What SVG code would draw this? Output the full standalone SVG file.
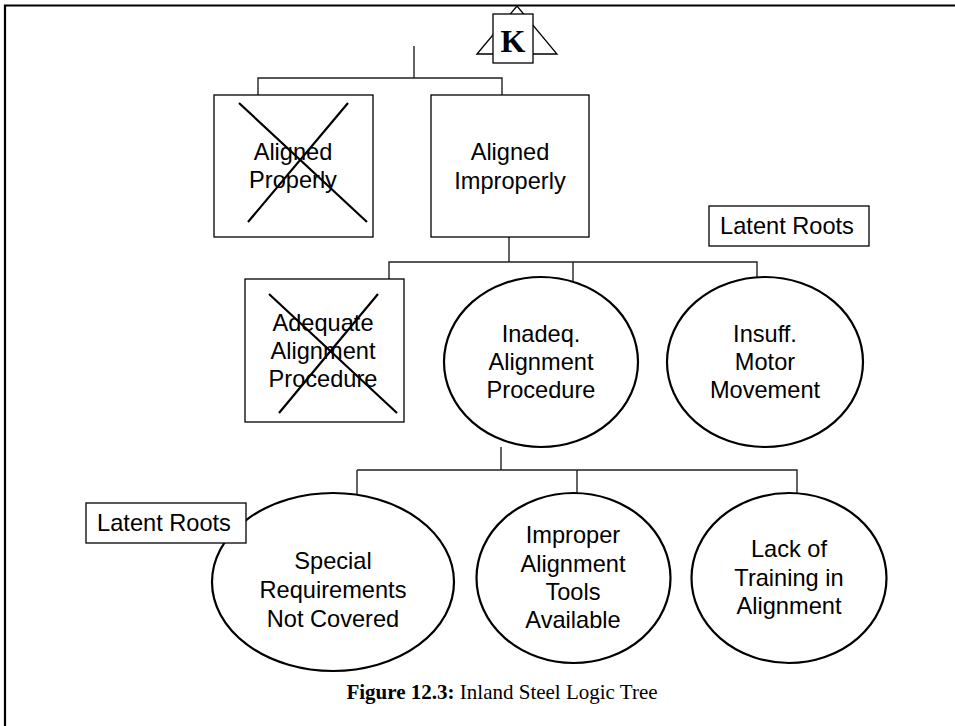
<svg xmlns="http://www.w3.org/2000/svg" width="955" height="726" viewBox="0 0 955 726">
<style>
.lbl{font-family:"Liberation Sans",Arial,sans-serif;font-size:23.6px;fill:#000;text-anchor:middle}
.box{fill:#fff;stroke:#000;stroke-width:1.3}
.ell{fill:#fff;stroke:#000;stroke-width:2.2}
.x{stroke:#000;stroke-width:2.2;fill:none}
.con{stroke:#222;stroke-width:1.4;fill:none}
.cap{font-family:"Liberation Serif","Times New Roman",serif;font-size:21px;fill:#000;text-anchor:middle}
</style>
<rect x="0" y="0" width="955" height="726" fill="#fff"/>
<g id="frame">
<path d="M5,726 V5.5 H955" fill="none" stroke="#000" stroke-width="2.2"/>
</g>
<g id="connectors" class="con">
<path d="M414,46 V78"/>
<path d="M258,95 V78 H502 V95"/>
<path d="M509,237 V262"/>
<path d="M389,279 V262 H757 V279"/>
<path d="M573,262 V282"/>
<path d="M501,447 V470"/>
<path d="M357,470 H797 V494"/>
<path d="M357,470 V494"/>
<path d="M577,470 V493"/>
</g>
<g id="k-transfer">
<polygon points="477,54 517,6 557,54" fill="#fff" stroke="#000" stroke-width="1.3"/>
<rect x="493" y="14" width="40" height="49" class="box"/>
<text x="513" y="52" font-family="'Liberation Serif','Times New Roman',serif" font-weight="bold" font-size="32" text-anchor="middle">K</text>
</g>
<g id="aligned-properly">
<rect x="214" y="95" width="159" height="142" class="box"/>
<text class="lbl" x="293" y="160">Aligned</text>
<text class="lbl" x="293" y="188">Properly</text>
<path class="x" d="M239,103 L367,222 M348,103 L248,222"/>
</g>
<g id="aligned-improperly">
<rect x="431" y="95" width="158" height="142" class="box"/>
<text class="lbl" x="510" y="160">Aligned</text>
<text class="lbl" x="510" y="189">Improperly</text>
</g>
<g id="latent-roots-1">
<rect x="709" y="206" width="160" height="40" class="box"/>
<text class="lbl" x="787" y="234">Latent Roots</text>
</g>
<g id="adequate-procedure">
<rect x="245" y="279" width="159" height="143" class="box"/>
<text class="lbl" x="323" y="331">Adequate</text>
<text class="lbl" x="323" y="359">Alignment</text>
<text class="lbl" x="323" y="387">Procedure</text>
<path class="x" d="M269,294 L397,413 M378,294 L279,413"/>
</g>
<g id="inadeq-procedure">
<ellipse cx="541" cy="362" rx="97" ry="85" class="ell"/>
<text class="lbl" x="541" y="342">Inadeq.</text>
<text class="lbl" x="541" y="370">Alignment</text>
<text class="lbl" x="541" y="398">Procedure</text>
</g>
<g id="insuff-motor">
<ellipse cx="765" cy="362" rx="98" ry="85" class="ell"/>
<text class="lbl" x="765" y="342">Insuff.</text>
<text class="lbl" x="765" y="370">Motor</text>
<text class="lbl" x="765" y="398">Movement</text>
</g>
<g id="special-requirements">
<ellipse cx="333" cy="582" rx="121" ry="89" class="ell"/>
<text class="lbl" x="333" y="569">Special</text>
<text class="lbl" x="333" y="598">Requirements</text>
<text class="lbl" x="333" y="627">Not Covered</text>
</g>
<g id="latent-roots-2">
<rect x="86" y="503" width="160" height="40" class="box"/>
<text class="lbl" x="164" y="531">Latent Roots</text>
</g>
<g id="improper-tools">
<ellipse cx="573.5" cy="578" rx="97" ry="85" class="ell"/>
<text class="lbl" x="573" y="543">Improper</text>
<text class="lbl" x="573" y="571.5">Alignment</text>
<text class="lbl" x="573" y="600">Tools</text>
<text class="lbl" x="573" y="628">Available</text>
</g>
<g id="lack-training">
<ellipse cx="789" cy="578" rx="97.5" ry="85" class="ell"/>
<text class="lbl" x="789" y="557">Lack of</text>
<text class="lbl" x="789" y="585.5">Training in</text>
<text class="lbl" x="789" y="614">Alignment</text>
</g>
<g id="caption">
<text class="cap" x="502" y="699"><tspan font-weight="bold">Figure 12.3:</tspan> Inland Steel Logic Tree</text>
</g>
</svg>
